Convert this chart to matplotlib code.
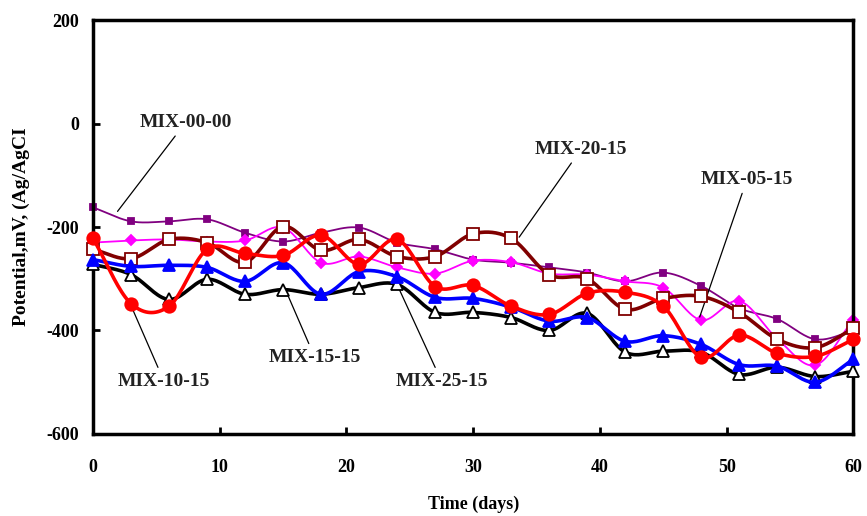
import numpy as np
import matplotlib
matplotlib.use("Agg")
import matplotlib.pyplot as plt

days = [0, 3, 6, 9, 12, 15, 18, 21, 24, 27, 30, 33, 36, 39, 42, 45, 48, 51, 54, 57, 60]

mix_00_00 = [-162, -189, -189, -185, -211, -228, -211, -201, -230, -243, -263, -269, -278, -288, -305, -288, -314, -357, -378, -417, -401]
mix_05_15 = [-230, -226, -224, -228, -226, -201, -269, -257, -278, -290, -265, -268, -290, -292, -305, -317, -380, -343, -416, -467, -379]
mix_20_15 = [-243, -261, -224, -230, -268, -199, -245, -224, -257, -257, -213, -222, -292, -300, -359, -338, -334, -365, -417, -433, -396]
mix_10_15 = [-222, -348, -353, -243, -251, -255, -216, -272, -224, -315, -313, -353, -369, -328, -326, -353, -452, -409, -444, -450, -417]
mix_15_15 = [-263, -276, -274, -278, -305, -269, -330, -286, -296, -336, -338, -355, -382, -375, -421, -410, -427, -466, -469, -500, -456]
mix_25_15 = [-272, -292, -340, -301, -330, -321, -330, -317, -311, -365, -365, -375, -400, -367, -442, -440, -442, -485, -471, -489, -479]

x_ticks = [0, 10, 20, 30, 40, 50, 60]
y_ticks = [-600, -400, -200, 0, 200]


def smooth(x, y, n=20):
    """Catmull-Rom style smoothing (like spreadsheet 'smoothed line')."""
    x = np.asarray(x, float)
    y = np.asarray(y, float)
    px = np.concatenate([[2 * x[0] - x[1]], x, [2 * x[-1] - x[-2]]])
    py = np.concatenate([[2 * y[0] - y[1]], y, [2 * y[-1] - y[-2]]])
    xs, ys = [], []
    t = np.linspace(0, 1, n, endpoint=False)
    for i in range(1, len(px) - 2):
        p0, p1, p2, p3 = py[i - 1], py[i], py[i + 1], py[i + 2]
        q0, q1, q2, q3 = px[i - 1], px[i], px[i + 1], px[i + 2]
        tt = t
        f = lambda a0, a1, a2, a3: 0.5 * ((2 * a1) + (-a0 + a2) * tt +
                                         (2 * a0 - 5 * a1 + 4 * a2 - a3) * tt ** 2 +
                                         (-a0 + 3 * a1 - 3 * a2 + a3) * tt ** 3)
        xs.append(f(q0, q1, q2, q3))
        ys.append(f(p0, p1, p2, p3))
    xs.append([x[-1]])
    ys.append([y[-1]])
    return np.concatenate(xs), np.concatenate(ys)


plt.rcParams['font.family'] = ['Liberation Serif', 'DejaVu Serif']
plt.rcParams['font.weight'] = 'bold'

fig = plt.figure(figsize=(8.67, 5.16), dpi=100)
ax = fig.add_axes([0.1073, 0.159, 0.877, 0.802])

series = [
    (mix_00_00, '#800080', 1.3, 's', 4, '#800080', 1),
    (mix_05_15, '#FF00FF', 1.3, 'D', 5, '#FF00FF', 2),
    (mix_20_15, '#800000', 2.6, 's', 9, 'white', 3),
    (mix_25_15, '#000000', 2.6, '^', 8, 'white', 4),
    (mix_15_15, '#0000FF', 2.6, '^', 9, '#0000FF', 5),
    (mix_10_15, '#FF0000', 2.6, 'o', 9, '#FF0000', 6),
]
for vals, col, lw, mk, ms, fc, z in series:
    sx, sy = smooth(days, vals)
    ax.plot(sx, sy, color=col, lw=lw, zorder=z)
    ax.plot(days, vals, linestyle='none', marker=mk, markersize=ms,
            markerfacecolor=fc, markeredgecolor=col, markeredgewidth=1.3,
            zorder=z + 0.5, clip_on=False)

ax.set_xlim(0, 60)
ax.set_ylim(-600, 200)
ax.set_xticks(x_ticks)
ax.set_yticks(y_ticks)
ax.set_xticklabels([str(v) for v in x_ticks], fontsize=13, fontweight='bold')
ax.set_yticklabels([str(v) for v in y_ticks], fontsize=13, fontweight='bold')
ax.tick_params(axis='x', direction='in', length=5, width=2, pad=18)
ax.tick_params(axis='y', direction='in', length=5, width=2, pad=10)
for s in ax.spines.values():
    s.set_linewidth(2.5)

ax.set_xlabel('Time (days)', fontsize=13, fontweight='bold', labelpad=14)
ax.set_ylabel('Potential,mV, (Ag/AgCI', fontsize=14, fontweight='bold', labelpad=12)

ann = dict(fontsize=14, fontweight='bold', color='#222222', ha='center', va='center')
line_kw = dict(arrowstyle='-', color='black', lw=0.9)
ax.annotate('MIX-00-00', xy=(1.8, -174), xytext=(7.3, 2), arrowprops=line_kw, **ann)
ax.annotate('MIX-20-15', xy=(33.5, -224), xytext=(38.5, -50), arrowprops=line_kw, **ann)
ax.annotate('MIX-05-15', xy=(47.8, -379), xytext=(51.6, -108), arrowprops=line_kw, **ann)
ax.annotate('MIX-10-15', xy=(3.0, -352), xytext=(5.6, -498), arrowprops=line_kw, **ann)
ax.annotate('MIX-15-15', xy=(15.2, -322), xytext=(17.5, -452), arrowprops=line_kw, **ann)
ax.annotate('MIX-25-15', xy=(23.5, -285), xytext=(27.5, -498), arrowprops=line_kw, **ann)

fig.savefig('out.png', dpi=100)
